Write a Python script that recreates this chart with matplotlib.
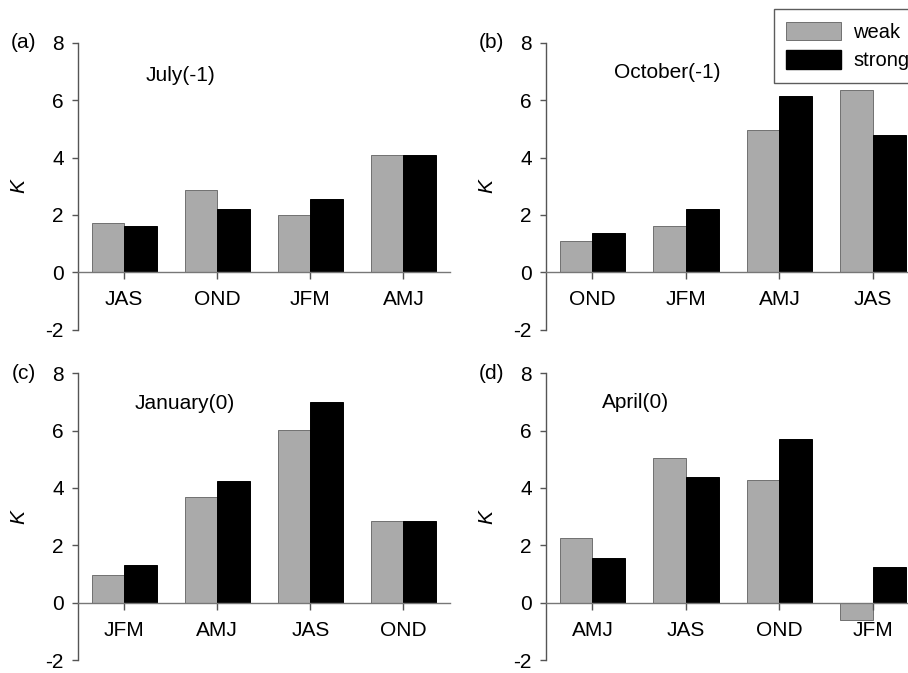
import matplotlib
matplotlib.use("Agg")
import matplotlib.pyplot as plt
from matplotlib.patches import Patch
import numpy as np

plt.rcParams['font.family'] = ['Liberation Sans', 'DejaVu Sans']

panel_labels = ["(a)", "(b)", "(c)", "(d)"]
titles = ["July(-1)", "October(-1)", "January(0)", "April(0)"]
cats_a = ["JAS", "OND", "JFM", "AMJ"]
cats_b = ["OND", "JFM", "AMJ", "JAS"]
cats_c = ["JFM", "AMJ", "JAS", "OND"]
cats_d = ["AMJ", "JAS", "OND", "JFM"]
weak_a = [1.72, 2.88, 1.99, 4.10]
strong_a = [1.60, 2.20, 2.57, 4.10]
weak_b = [1.10, 1.60, 4.95, 6.34]
strong_b = [1.37, 2.20, 6.16, 4.79]
weak_c = [0.97, 3.68, 6.01, 2.84]
strong_c = [1.32, 4.24, 7.01, 2.84]
weak_d = [2.24, 5.03, 4.29, -0.61]
strong_d = [1.57, 4.38, 5.70, 1.26]
yticks = [-2, 0, 2, 4, 6, 8]

cats = [cats_a, cats_b, cats_c, cats_d]
weak = [weak_a, weak_b, weak_c, weak_d]
strong = [strong_a, strong_b, strong_c, strong_d]

W, H = 908, 673
fig = plt.figure(figsize=(W / 100, H / 100), dpi=100)

# axes rects in pixels: left, top(y=8), right, bottom(y=-2)
rects = [(77.7, 42.7, 450.0, 329.7),
         (545.7, 42.7, 919.7, 329.7),
         (77.7, 373.3, 450.0, 660.0),
         (545.7, 373.3, 919.7, 660.0)]
title_pos = [(0.275, 0.887), (0.325, 0.895), (0.288, 0.895), (0.24, 0.897)]

grey = '#aaaaaa'
spcol = '#555555'
zcol = '#777777'
fs = 15
bw = 0.35

for i in range(4):
    l, t, r, b = rects[i]
    ax = fig.add_axes([l / W, 1 - b / H, (r - l) / W, (b - t) / H])
    for s in ['top', 'right']:
        ax.spines[s].set_visible(False)
    ax.spines['bottom'].set_position(('data', 0))
    ax.spines['bottom'].set_color(zcol)
    ax.spines['left'].set_color(spcol)
    ax.spines['bottom'].set_linewidth(1.0)
    ax.spines['left'].set_linewidth(1.0)
    x = np.arange(len(cats[i]))
    ax.bar(x - bw / 2, weak[i], bw, color=grey, edgecolor='#707070', linewidth=0.7, zorder=1)
    ax.bar(x + bw / 2, strong[i], bw, color='black', edgecolor='black', linewidth=0.7, zorder=1)
    ax.set_xlim(-0.5, 3.5)
    ax.set_ylim(-2, 8)
    ax.set_yticks(yticks)
    ax.set_yticklabels([str(v) for v in yticks])
    ax.set_xticks(x)
    ax.set_xticklabels(cats[i])
    ax.tick_params(axis='y', direction='out', length=4, width=1.0, color=spcol,
                   pad=6, labelsize=fs)
    ax.tick_params(axis='x', direction='out', length=5, width=1.0, color=spcol,
                   pad=8, labelsize=fs)
    ax.set_ylabel('K', style='italic', fontsize=fs)
    ax.yaxis.set_label_coords(-0.132, 0.5)
    ax.text(title_pos[i][0], title_pos[i][1], titles[i], transform=ax.transAxes,
            ha='center', va='center', fontsize=fs)
    ax.text(-0.145, 1.0, panel_labels[i], transform=ax.transAxes,
            ha='center', va='center', fontsize=fs)
    ax.patch.set_alpha(0)

handles = [Patch(facecolor=grey, edgecolor='#707070', linewidth=0.7),
           Patch(facecolor='black', edgecolor='black')]
leg = fig.legend(handles, ['weak', 'strong'], loc='upper left',
                 bbox_to_anchor=(774 / W, 1 - 9.3 / H), fontsize=14.5,
                 frameon=True, fancybox=False, edgecolor='#333333',
                 handlelength=2.7, handleheight=1.05, handletextpad=0.6,
                 labelspacing=0.4, borderpad=0.62, borderaxespad=0)
leg.get_frame().set_linewidth(1.0)

fig.savefig('out.png', dpi=100)
